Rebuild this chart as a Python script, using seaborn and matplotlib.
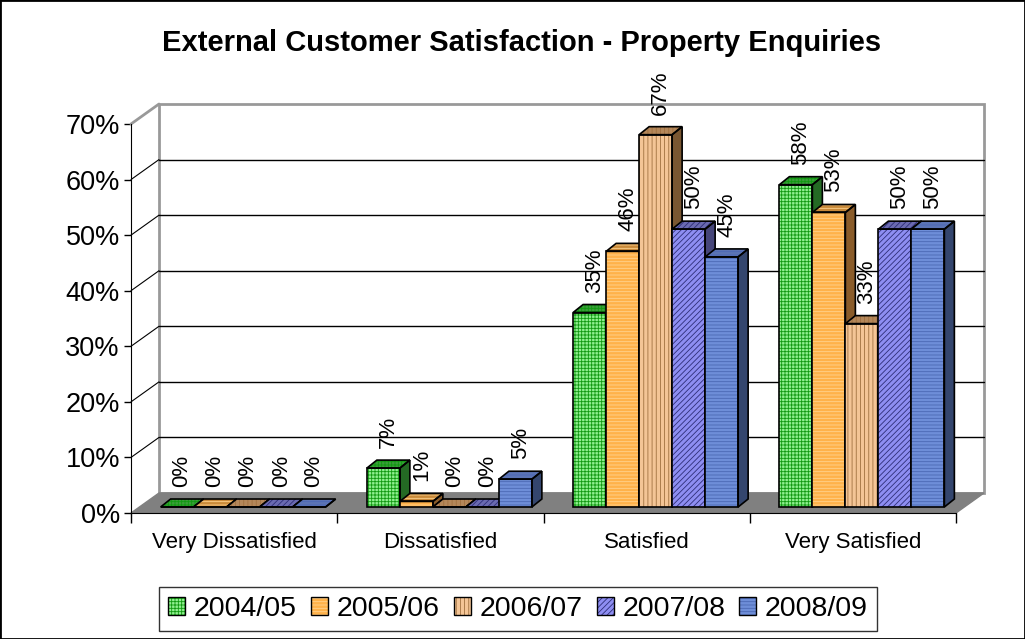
import numpy as np
import pandas as pd
import matplotlib
matplotlib.use("Agg")
import matplotlib.pyplot as plt
from matplotlib.patches import Polygon, Patch, Rectangle
from matplotlib.transforms import ScaledTranslation
from matplotlib.legend_handler import HandlerTuple
import seaborn as sns

categories = ["Very Dissatisfied", "Dissatisfied", "Satisfied", "Very Satisfied"]
years = ["2004/05", "2005/06", "2006/07", "2007/08", "2008/09"]
v_2004_05 = [0, 7, 35, 58]
v_2005_06 = [0, 1, 46, 53]
v_2006_07 = [0, 0, 67, 33]
v_2007_08 = [0, 0, 50, 50]
v_2008_09 = [0, 5, 45, 50]

face_colors = ["#8FF08F", "#FFB24A", "#F4C596", "#8E8EF2", "#6E8ED8"]
hatch_colors = ["#119911", "#FFD38F", "#A0703F", "#2E2E78", "#4B68B4"]
top_colors = ["#3A9E3A", "#C98A3A", "#B4875A", "#6A6AB0", "#5C74B4"]
side_colors = ["#246A24", "#8A5C2A", "#7A5732", "#46467A", "#34466E"]
hatches = ["+++++", "-----", "||||", "//////", "-----"]

values = [v_2004_05, v_2005_06, v_2006_07, v_2007_08, v_2008_09]
df = pd.DataFrame({
    "category": np.tile(categories, len(years)),
    "year": np.repeat(years, len(categories)),
    "value": np.concatenate(values),
})

sns.set_style("white")
plt.rcParams["font.family"] = ["Liberation Sans", "DejaVu Sans"]
plt.rcParams["hatch.linewidth"] = 0.6
for key in ["text.color", "axes.labelcolor", "xtick.color", "ytick.color"]:
    plt.rcParams[key] = "black"

fig = plt.figure(figsize=(10.25, 6.39), dpi=100)
ax = fig.add_axes([131 / 1025, 1 - 513 / 639, (956 - 131) / 1025, (513 - 124) / 639])

sns.barplot(data=df, x="category", y="value", hue="year", palette=face_colors,
            width=0.8, saturation=1, linewidth=0, legend=False, ax=ax)
ax.set_xlim(-0.5, 3.5)
ax.set_ylim(0, 70)

# pixel offsets: wall depth, bar placement, bar depth
WALL = (28, 20)
BAR = (9, 6)
DEPTH = (10, 8)


def shift(pts, dx, dy):
    disp = ax.transData.transform(np.asarray(pts, dtype=float)) + [dx, dy]
    return ax.transData.inverted().transform(disp)


x0, x1 = ax.get_xlim()

# floor and back wall
floor = [(x0, 0), (x1, 0)] + list(shift([(x1, 0), (x0, 0)], *WALL))
ax.add_patch(Polygon(floor, closed=True, facecolor="#808080", edgecolor="#808080",
                     lw=1, zorder=0.5, clip_on=False))
wall = shift([(x0, 0), (x1, 0), (x1, 70), (x0, 70)], *WALL)
ax.add_patch(Polygon(wall, closed=True, facecolor="white", edgecolor="#999999",
                     lw=2, zorder=0.4, clip_on=False))
for yv in range(10, 70, 10):
    back = shift([(x0, yv), (x1, yv)], *WALL)
    ax.plot(back[:, 0], back[:, 1], color="black", lw=1, zorder=0.6, clip_on=False)
    diag = np.vstack([[x0, yv], shift([(x0, yv)], *WALL)])
    ax.plot(diag[:, 0], diag[:, 1], color="black", lw=0.8, zorder=0.6, clip_on=False)
top_diag = np.vstack([[x0, 70], shift([(x0, 70)], *WALL)])
ax.plot(top_diag[:, 0], top_diag[:, 1], color="#999999", lw=2, zorder=0.6, clip_on=False)

# 3D-looking bars built on the seaborn rectangles
bar_shift = ScaledTranslation(BAR[0] / 100, BAR[1] / 100, fig.dpi_scale_trans)
bars = []
for i, cont in enumerate(ax.containers):
    for rect in cont.patches:
        bars.append((rect.get_x(), i, rect))
bars.sort(key=lambda b: b[0])

for k, (_, i, rect) in enumerate(bars):
    z = 2 + k * 0.01
    rect.set_transform(ax.transData + bar_shift)
    rect.set_hatch(hatches[i])
    rect.set_edgecolor(hatch_colors[i])
    rect.set_linewidth(0)
    rect.set_zorder(z)
    bx, bw, bh = rect.get_x(), rect.get_width(), rect.get_height()
    fl, fr, tr, tl = shift([(bx, 0), (bx + bw, 0), (bx + bw, bh), (bx, bh)], *BAR)
    dx, dy = DEPTH
    tr_b, tl_b, fr_b = shift([tr, tl, fr], dx, dy)
    top = [tl, tr, tr_b, tl_b]
    side = [fr, tr, tr_b, fr_b]
    ax.add_patch(Polygon(top, closed=True, facecolor=top_colors[i], edgecolor=hatch_colors[i],
                         hatch=hatches[i], lw=0, zorder=z + 0.001, clip_on=False))
    ax.add_patch(Polygon(side, closed=True, facecolor=side_colors[i], edgecolor=side_colors[i],
                         hatch=hatches[i], lw=0, zorder=z + 0.001, clip_on=False))
    for poly in ([fl, fr, tr, tl], top, side):
        ax.add_patch(Polygon(poly, closed=True, fill=False, edgecolor="black",
                             lw=1.2, zorder=z + 0.002, clip_on=False))
    lab = shift([(bx + bw / 2, bh)], BAR[0] + 5, BAR[1] + 20)[0]
    ax.text(lab[0], lab[1], f"{int(round(bh))}%", rotation=90, ha="center", va="bottom",
            fontsize=16, zorder=10, clip_on=False)

# axes styling
for s in ["top", "right"]:
    ax.spines[s].set_visible(False)
ax.spines["left"].set_color("black")
ax.spines["bottom"].set_color("black")
ax.spines["left"].set_zorder(1)
ax.set_yticks(range(0, 71, 10))
ax.set_yticklabels([f"{v}%" for v in range(0, 71, 10)])
ax.tick_params(axis="y", direction="out", length=5, width=1, labelsize=19.5, pad=3, left=True)
ax.set_xticks(range(len(categories)))
ax.set_xticklabels(categories)
ax.set_xticks(np.arange(-0.5, 3.6, 1), minor=True)
ax.tick_params(axis="x", which="major", length=0, labelsize=16, pad=14)
ax.tick_params(axis="x", which="minor", direction="out", length=7, width=1, bottom=True)
ax.set_xlabel("")
ax.set_ylabel("")
ax.patch.set_alpha(0)

fig.text(0.509, 1 - 43 / 639, "External Customer Satisfaction - Property Enquiries",
         ha="center", va="center", fontsize=21, fontweight="bold")

handles = []
for i in range(len(years)):
    handles.append((Patch(facecolor=face_colors[i], edgecolor=hatch_colors[i],
                          hatch=hatches[i], lw=0),
                    Patch(fill=False, edgecolor="black", lw=1)))
leg = fig.legend(handles, years, loc="center", bbox_to_anchor=(518 / 1025, 1 - 609 / 639),
                 ncol=5, fontsize=20.5, frameon=True, fancybox=False, edgecolor="black",
                 handlelength=0.6, handleheight=0.6, handletextpad=0.3,
                 columnspacing=0.5, borderpad=0.3,
                 handler_map={tuple: HandlerTuple(ndivide=1, pad=0)})
leg.get_frame().set_linewidth(1)

fig.patches.append(Rectangle((0, 0), 1, 1, transform=fig.transFigure, fill=False,
                             edgecolor="black", lw=2))

fig.savefig("out.png", dpi=100)
